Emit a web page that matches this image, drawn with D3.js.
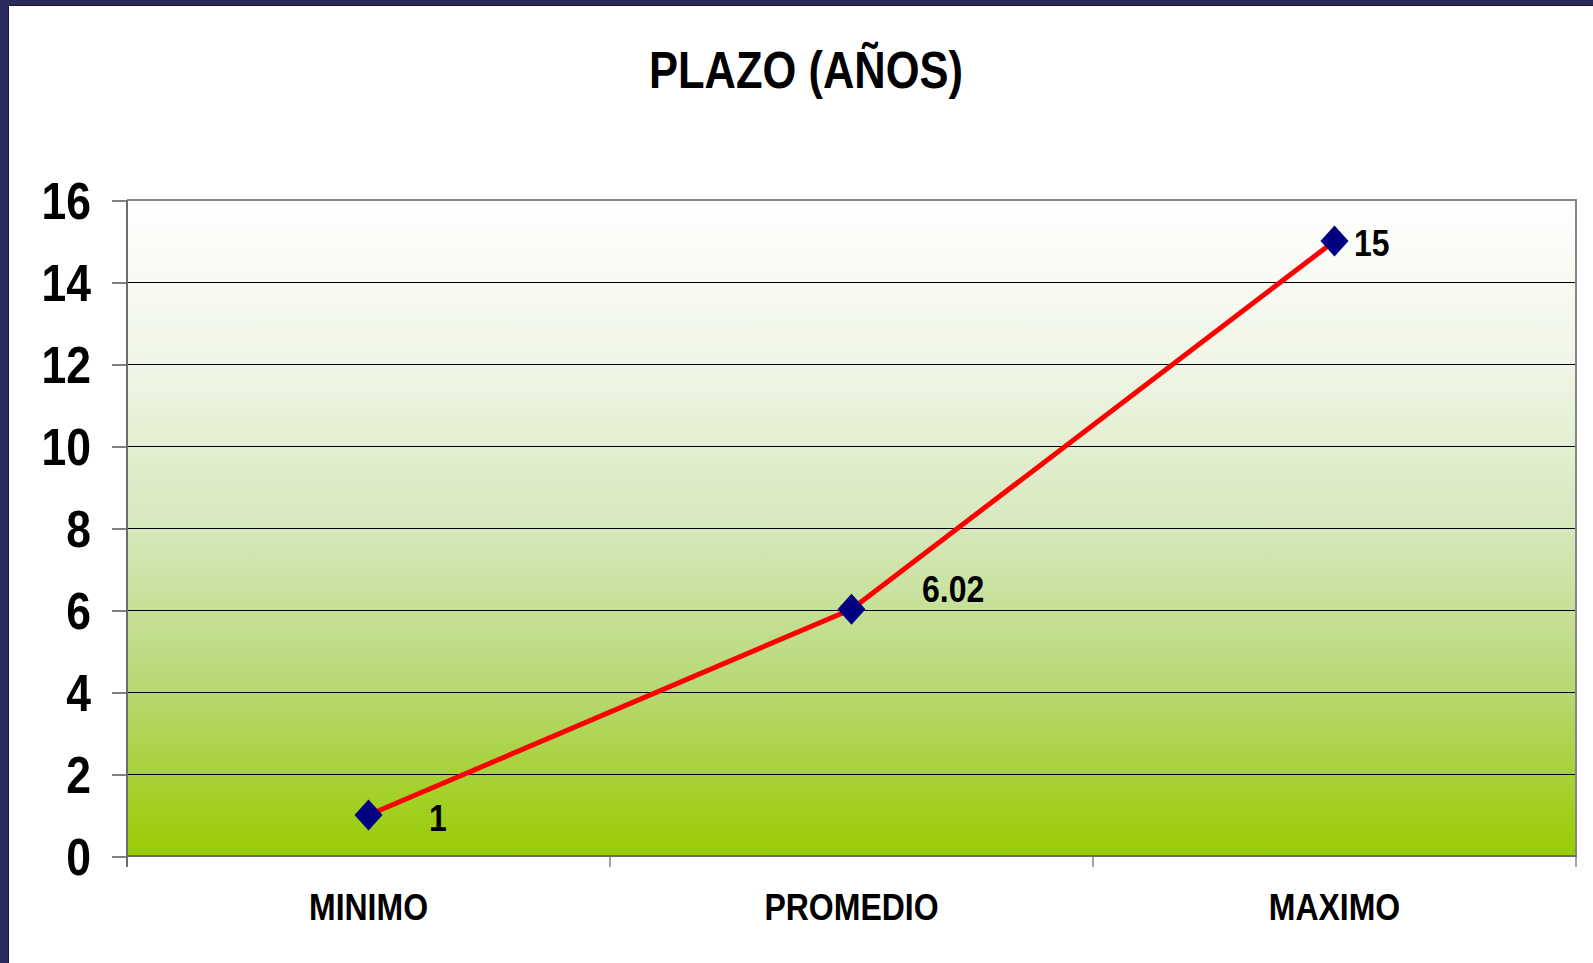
<!DOCTYPE html>
<html>
<head>
<meta charset="utf-8">
<script src="https://cdn.jsdelivr.net/npm/d3@7/dist/d3.min.js"></script>
<style>
  html, body { margin: 0; padding: 0; background: #ffffff; }
  svg { display: block; }
  text { font-family: "Liberation Sans", Arial, sans-serif; font-weight: bold; fill: #000; }
</style>
</head>
<body>
<svg id="chart" width="1593" height="963"></svg>
<script>
// ---- data ----
const categories = ["MINIMO", "PROMEDIO", "MAXIMO"];
const values = [1, 6.02, 15];
const valueLabels = ["1", "6.02", "15"];
const yTicks = [0, 2, 4, 6, 8, 10, 12, 14, 16];
const title = "PLAZO (AÑOS)";

// ---- layout ----
const W = 1593, H = 963;
const plot = { left: 127, right: 1576, top: 200, bottom: 856 };
const STRETCH = 1.18; // vertical stretch of text as in the reference

const svg = d3.select("#chart");

// frame border (left + top)
svg.append("rect").attr("x", 0).attr("y", 0).attr("width", W).attr("height", H).attr("fill", "#ffffff");
svg.append("rect").attr("x", 0).attr("y", 0).attr("width", 9).attr("height", H).attr("fill", "#2b2a5e");
svg.append("rect").attr("x", 0).attr("y", 0).attr("width", W).attr("height", 6).attr("fill", "#2b2a5e");
svg.append("line").attr("x1", 8.5).attr("x2", 8.5).attr("y1", 5).attr("y2", H).attr("stroke", "#171733").attr("stroke-width", 1);
svg.append("line").attr("x1", 8).attr("x2", W).attr("y1", 5.5).attr("y2", 5.5).attr("stroke", "#171733").attr("stroke-width", 1);

// scales
const x = d3.scaleBand().domain(categories).range([plot.left, plot.right]).padding(0);
const y = d3.scaleLinear().domain([0, 16]).range([plot.bottom, plot.top]);

// gradient background
const defs = svg.append("defs");
const grad = defs.append("linearGradient").attr("id", "bg").attr("x1", 0).attr("y1", 0).attr("x2", 0).attr("y2", 1);
[[0, "#ffffff"], [0.26, "#eff5e4"], [0.5, "#d6e8bc"], [0.75, "#b6d872"], [1, "#99cc00"]]
  .forEach(([o, c]) => grad.append("stop").attr("offset", o).attr("stop-color", c));

svg.append("rect")
  .attr("x", plot.left).attr("y", plot.top)
  .attr("width", plot.right - plot.left).attr("height", plot.bottom - plot.top)
  .attr("fill", "url(#bg)");

// gridlines
svg.append("g").selectAll("line")
  .data(yTicks.filter(t => t > 0 && t < 16))
  .join("line")
  .attr("x1", plot.left).attr("x2", plot.right)
  .attr("y1", d => Math.round(y(d)) + 0.5).attr("y2", d => Math.round(y(d)) + 0.5)
  .attr("stroke", "#000").attr("stroke-width", 1);

// plot border top / right
svg.append("line").attr("x1", plot.left).attr("x2", plot.right + 1).attr("y1", plot.top).attr("y2", plot.top)
  .attr("stroke", "#868686").attr("stroke-width", 2);
svg.append("line").attr("x1", plot.right).attr("x2", plot.right).attr("y1", plot.top).attr("y2", plot.bottom)
  .attr("stroke", "#868686").attr("stroke-width", 2);

// y axis
const yAxis = d3.axisLeft(y).tickValues(yTicks).tickSize(15).tickPadding(21).tickFormat(d3.format("d"));
const gy = svg.append("g").attr("transform", `translate(${plot.left},0)`).call(yAxis);
gy.select(".domain").remove();
gy.selectAll(".tick line").attr("stroke", "#000").attr("stroke-width", 1)
  .attr("transform", "translate(0,0.5)");
gy.selectAll(".tick text")
  .attr("font-size", 44.5)
  .attr("font-family", "Liberation Sans, Arial, sans-serif")
  .attr("font-weight", "bold")
  .attr("fill", "#000")
  .attr("dy", "0.36em")
  .attr("transform", `scale(1,${STRETCH})`);

// x axis: labels at band centers
const xAxis = d3.axisBottom(x).tickSize(0).tickPadding(0);
const gx = svg.append("g").attr("transform", `translate(0,${plot.bottom})`).call(xAxis);
gx.select(".domain").remove();
gx.selectAll(".tick text")
  .attr("font-size", 32)
  .attr("font-family", "Liberation Sans, Arial, sans-serif")
  .attr("font-weight", "bold")
  .attr("fill", "#000")
  .attr("y", 0).attr("dy", 0)
  .attr("transform", `translate(0,64) scale(1,${STRETCH})`);

// x axis boundary ticks
const edges = categories.map(c => x(c)).concat([x(categories[categories.length - 1]) + x.bandwidth()]);
svg.append("g").selectAll("line").data(edges).join("line")
  .attr("x1", d => d).attr("x2", d => d)
  .attr("y1", plot.bottom).attr("y2", plot.bottom + 11)
  .attr("stroke", d => (d === plot.left ? "#6b6b6b" : "#868686"))
  .attr("stroke-width", d => (d === plot.left ? 2 : 1.5));

// axis lines
svg.append("line").attr("x1", plot.left).attr("x2", plot.left).attr("y1", plot.top).attr("y2", plot.bottom + 11)
  .attr("stroke", "#6b6b6b").attr("stroke-width", 2);
svg.append("line").attr("x1", plot.left).attr("x2", plot.right + 1).attr("y1", plot.bottom).attr("y2", plot.bottom)
  .attr("stroke", "#6b6b6b").attr("stroke-width", 2);

// line series
const pts = categories.map((c, i) => ({ c, v: values[i], label: valueLabels[i], i }));
const cx = d => x(d.c) + x.bandwidth() / 2;
const line = d3.line().x(cx).y(d => y(d.v));
svg.append("path").datum(pts).attr("d", line)
  .attr("fill", "none").attr("stroke", "#ff0000").attr("stroke-width", 5).attr("stroke-linejoin", "round");

// markers (diamonds)
svg.append("g").selectAll("path").data(pts).join("path")
  .attr("d", "M0,-15.5L14,0L0,15.5L-14,0Z")
  .attr("transform", d => `translate(${cx(d)},${y(d.v)})`)
  .attr("fill", "#000080");

// data labels (offsets relative to each marker, as placed in the reference)
const labelOffsets = [[60.5, 16], [70.5, -7.5], [19.5, 15]];
svg.append("g").selectAll("text").data(pts).join("text")
  .attr("transform", d => `translate(${cx(d) + labelOffsets[d.i][0]},${y(d.v) + labelOffsets[d.i][1]}) scale(1,${STRETCH})`)
  .attr("font-size", 32)
  .attr("text-anchor", "start")
  .text(d => d.label);

// title
svg.append("text")
  .attr("transform", `translate(806,87.5) scale(1,${STRETCH})`)
  .attr("text-anchor", "middle")
  .attr("font-size", 43.5)
  .text(title);
</script>
</body>
</html>
